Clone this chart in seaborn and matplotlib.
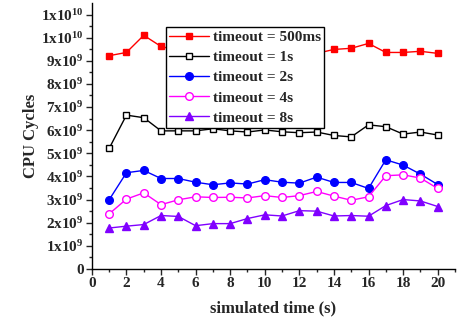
import matplotlib
matplotlib.use("Agg")
import matplotlib.pyplot as plt
import seaborn as sns
import pandas as pd
import numpy as np
from matplotlib.ticker import FixedLocator

time_s = list(range(1, 21))
t500ms = [9.22, 9.36, 10.1, 9.62, 9.44, 9.36, 9.48, 9.45, 9.54, 9.53,
          9.52, 9.32, 9.32, 9.49, 9.54, 9.75, 9.36, 9.36, 9.41, 9.32]
t1s = [5.21, 6.65, 6.54, 5.97, 5.97, 5.97, 6.06, 5.97, 5.92, 6.01,
       5.93, 5.89, 5.92, 5.77, 5.71, 6.23, 6.15, 5.83, 5.92, 5.79]
t2s = [2.99, 4.16, 4.26, 3.91, 3.91, 3.75, 3.64, 3.72, 3.67, 3.86,
       3.75, 3.71, 3.97, 3.74, 3.74, 3.48, 4.72, 4.49, 4.10, 3.65]
t4s = [2.38, 3.02, 3.29, 2.78, 2.99, 3.12, 3.09, 3.10, 3.07, 3.17,
       3.09, 3.17, 3.35, 3.15, 2.97, 3.12, 4.03, 4.07, 3.93, 3.48]
t8s = [1.77, 1.85, 1.92, 2.31, 2.27, 1.87, 1.96, 1.96, 2.18, 2.34,
       2.29, 2.52, 2.50, 2.29, 2.31, 2.28, 2.74, 3.00, 2.94, 2.70]
series_labels = ["timeout = 500ms", "timeout = 1s", "timeout = 2s", "timeout = 4s", "timeout = 8s"]
ytick_labels = ["0"] + [r"$\mathbf{%dx10^{9}}$" % i for i in range(1, 10)] + [r"$\mathbf{1x10^{10}}$", r"$\mathbf{1x10^{10}}$"]

sns.set_style("ticks")
plt.rcParams["font.family"] = ["Liberation Serif", "DejaVu Serif"]
plt.rcParams["font.weight"] = "bold"
plt.rcParams["mathtext.fontset"] = "custom"
plt.rcParams["mathtext.rm"] = "Liberation Serif:bold"
plt.rcParams["mathtext.bf"] = "Liberation Serif:bold"
plt.rcParams["mathtext.it"] = "Liberation Serif:bold"

fig = plt.figure(figsize=(4.71, 3.28), dpi=100)
ax = fig.add_axes([0.195, 0.180, 0.771, 0.811])

styles = [
    dict(color="#FF0000", marker="s", mfc="#FF0000", ms=5),
    dict(color="#000000", marker="s", mfc="white", ms=5),
    dict(color="#0000FF", marker="o", mfc="#0000FF", ms=5.5),
    dict(color="#FF00FF", marker="o", mfc="white", ms=5.5),
    dict(color="#8000FF", marker="^", mfc="#8000FF", ms=6),
]
for vals, lab, st in zip([t500ms, t1s, t2s, t4s, t8s], series_labels, styles):
    df = pd.DataFrame({"t": time_s, "v": np.array(vals) * 1e9})
    sns.lineplot(data=df, x="t", y="v", ax=ax, color=st["color"], marker=st["marker"],
                 markerfacecolor=st["mfc"], markeredgecolor=st["color"], markeredgewidth=1.0,
                 markersize=st["ms"], linewidth=1.0, label=lab)

ax.set_xlim(0, 21)
ax.set_ylim(0, 1.15e10)
ax.xaxis.set_major_locator(FixedLocator(list(range(0, 21, 2))))
ax.xaxis.set_minor_locator(FixedLocator(list(range(1, 22, 2))))
ax.yaxis.set_major_locator(FixedLocator([i * 1e9 for i in range(12)]))
ax.yaxis.set_minor_locator(FixedLocator([(i + 0.5) * 1e9 for i in range(11)]))
ax.set_yticklabels(ytick_labels)
ax.tick_params(axis="both", which="major", length=4, width=1, labelsize=11, pad=2)
ax.tick_params(axis="both", which="minor", length=2.5, width=1)
for lbl in ax.get_xticklabels() + ax.get_yticklabels():
    lbl.set_fontweight("bold")
for s in ["top", "right"]:
    ax.spines[s].set_visible(False)
for s in ["left", "bottom"]:
    ax.spines[s].set_linewidth(1)
    ax.spines[s].set_color("black")

ax.set_xlabel("simulated time (s)", fontsize=12, fontweight="bold", labelpad=7)
ax.set_ylabel("CPU Cycles", fontsize=12, fontweight="bold", labelpad=1)

leg = ax.legend(loc="upper left", bbox_to_anchor=(0.205, 0.908), frameon=True, fancybox=False,
                edgecolor="black", framealpha=1, handlelength=2.6, handletextpad=0.25,
                borderpad=0.2, labelspacing=0.42, borderaxespad=0,
                prop={"family": "Liberation Serif", "weight": "bold", "size": 11})
leg.get_frame().set_linewidth(1)

fig.savefig("out.png", dpi=100)
